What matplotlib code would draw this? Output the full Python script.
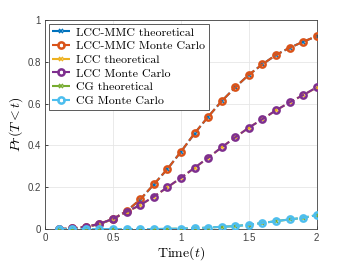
import numpy as np
import matplotlib.pyplot as plt

# time points
t = [0.1, 0.2, 0.3, 0.4, 0.5, 0.6, 0.7, 0.8, 0.9, 1.0,
     1.1, 1.2, 1.3, 1.4, 1.5, 1.6, 1.7, 1.8, 1.9, 2.0]

# LCC-MMC
lcc_mmc_theo = [0.0, 0.002, 0.010, 0.024, 0.048, 0.086, 0.141, 0.213, 0.287, 0.370,
                0.457, 0.537, 0.612, 0.678, 0.738, 0.788, 0.833, 0.867, 0.896, 0.922]
lcc_mmc_mc = [0.0, 0.003, 0.011, 0.025, 0.049, 0.086, 0.142, 0.214, 0.287, 0.370,
              0.458, 0.537, 0.612, 0.678, 0.738, 0.788, 0.833, 0.867, 0.896, 0.923]

# LCC
lcc_theo = [0.0, 0.002, 0.010, 0.024, 0.048, 0.082, 0.114, 0.155, 0.199, 0.245,
            0.292, 0.341, 0.391, 0.439, 0.485, 0.526, 0.568, 0.606, 0.641, 0.677]
lcc_mc = [0.0, 0.003, 0.011, 0.025, 0.049, 0.083, 0.115, 0.155, 0.200, 0.245,
          0.293, 0.341, 0.391, 0.439, 0.485, 0.526, 0.568, 0.606, 0.641, 0.678]

# CG
cg_theo = [0.0, 0.0, 0.0, 0.0, 0.0, 0.0, 0.0, 0.0, 0.001, 0.002,
           0.004, 0.007, 0.011, 0.014, 0.021, 0.029, 0.038, 0.046, 0.054, 0.067]
cg_mc = [0.0, 0.0, 0.0, 0.0, 0.0, 0.0, 0.0, 0.0, 0.001, 0.002,
         0.004, 0.007, 0.011, 0.014, 0.021, 0.029, 0.038, 0.046, 0.054, 0.067]

labels = ['LCC-MMC theoretical', 'LCC-MMC Monte Carlo', 'LCC theoretical',
          'LCC Monte Carlo', 'CG theoretical', 'CG Monte Carlo']
colors = ['#0072BD', '#D95319', '#EDB120', '#7E2F8E', '#77AC30', '#4DBEEE']

plt.rcParams['mathtext.fontset'] = 'cm'

fig = plt.figure(figsize=(3.5, 2.63), dpi=100)
ax = fig.add_axes([0.129, 0.129, 0.776, 0.795])

series = [lcc_mmc_theo, lcc_mmc_mc, lcc_theo, lcc_mc, cg_theo, cg_mc]
for i, (y, lab, c) in enumerate(zip(series, labels, colors)):
    if i % 2 == 0:
        # theoretical: drawn underneath, small x markers show through
        ax.plot(t, y, '--x', color=c, lw=1.5, ms=3, mew=1.2, label=lab,
                zorder=2 + i)
    else:
        ax.plot(t, y, '--o', color=c, lw=1.5, ms=4.5, mew=1.8, mfc='none',
                label=lab, zorder=2 + i)

ax.set_xlim(0, 2)
ax.set_ylim(0, 1)
ax.set_xticks([0, 0.5, 1, 1.5, 2])
ax.set_xticklabels(['0', '0.5', '1', '1.5', '2'])
ax.set_yticks([0, 0.2, 0.4, 0.6, 0.8, 1])
ax.set_yticklabels(['0', '0.2', '0.4', '0.6', '0.8', '1'])
ax.tick_params(direction='in', length=2.5, width=0.6, labelsize=7,
               colors='#262626', labelcolor='#404040', pad=3)
for lbl in ax.get_xticklabels() + ax.get_yticklabels():
    lbl.set_fontfamily('Liberation Sans')
ax.grid(True, color='#e6e6e6', lw=0.6)
ax.set_axisbelow(True)
for s in ax.spines.values():
    s.set_color('#404040')
    s.set_linewidth(0.6)

ax.set_xlabel(r'$\mathrm{Time}(t)$', fontsize=10, labelpad=1)
ax.set_ylabel(r'$Pr(T<t)$', fontsize=10, labelpad=2)

leg = ax.legend(loc='upper left', prop={'family': 'cmr10', 'size': 8.6},
                handlelength=1.5, handletextpad=0.5, labelspacing=0.28,
                borderpad=0.3, borderaxespad=0.3, fancybox=False,
                framealpha=1, edgecolor='#404040')
leg.get_frame().set_linewidth(0.6)

fig.savefig('out.png', dpi=100)
